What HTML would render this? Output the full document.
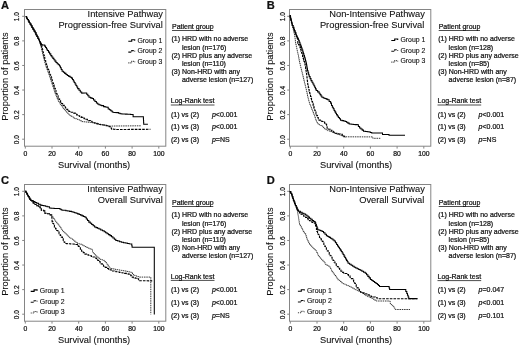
<!DOCTYPE html>
<html><head><meta charset="utf-8"><style>
html,body{margin:0;padding:0;background:#fff;}
svg{display:block;filter:blur(0.3px);}
text{font-family:"Liberation Sans", sans-serif;fill:#111;stroke:#111;stroke-width:0.22px;}
text.big{stroke-width:0.1px;}
text.leg{stroke-width:0.12px;}
</style></head><body>
<svg width="520" height="346" viewBox="0 0 520 346">
<rect width="520" height="346" fill="#fff"/>
<g><rect x="24.5" y="9.5" width="141.3" height="136.7" fill="none" stroke="#858585" stroke-width="1"/>
<line x1="22.2" y1="139.20" x2="24.5" y2="139.20" stroke="#858585" stroke-width="1"/>
<text transform="translate(19.2,139.60) rotate(-90)" text-anchor="middle" font-size="7.2" textLength="9.2" lengthAdjust="spacingAndGlyphs">0.0</text>
<line x1="22.2" y1="114.62" x2="24.5" y2="114.62" stroke="#858585" stroke-width="1"/>
<text transform="translate(19.2,115.02) rotate(-90)" text-anchor="middle" font-size="7.2" textLength="9.2" lengthAdjust="spacingAndGlyphs">0.2</text>
<line x1="22.2" y1="90.04" x2="24.5" y2="90.04" stroke="#858585" stroke-width="1"/>
<text transform="translate(19.2,90.44) rotate(-90)" text-anchor="middle" font-size="7.2" textLength="9.2" lengthAdjust="spacingAndGlyphs">0.4</text>
<line x1="22.2" y1="65.46" x2="24.5" y2="65.46" stroke="#858585" stroke-width="1"/>
<text transform="translate(19.2,65.86) rotate(-90)" text-anchor="middle" font-size="7.2" textLength="9.2" lengthAdjust="spacingAndGlyphs">0.6</text>
<line x1="22.2" y1="40.88" x2="24.5" y2="40.88" stroke="#858585" stroke-width="1"/>
<text transform="translate(19.2,41.28) rotate(-90)" text-anchor="middle" font-size="7.2" textLength="9.2" lengthAdjust="spacingAndGlyphs">0.8</text>
<line x1="22.2" y1="16.30" x2="24.5" y2="16.30" stroke="#858585" stroke-width="1"/>
<text transform="translate(19.2,16.70) rotate(-90)" text-anchor="middle" font-size="7.2" textLength="9.2" lengthAdjust="spacingAndGlyphs">1.0</text>
<line x1="25.30" y1="146.2" x2="25.30" y2="148.6" stroke="#858585" stroke-width="1"/>
<text x="25.30" y="156.0" text-anchor="middle" font-size="6.8">0</text>
<line x1="52.00" y1="146.2" x2="52.00" y2="148.6" stroke="#858585" stroke-width="1"/>
<text x="52.00" y="156.0" text-anchor="middle" font-size="6.8">20</text>
<line x1="78.70" y1="146.2" x2="78.70" y2="148.6" stroke="#858585" stroke-width="1"/>
<text x="78.70" y="156.0" text-anchor="middle" font-size="6.8">40</text>
<line x1="105.40" y1="146.2" x2="105.40" y2="148.6" stroke="#858585" stroke-width="1"/>
<text x="105.40" y="156.0" text-anchor="middle" font-size="6.8">60</text>
<line x1="132.10" y1="146.2" x2="132.10" y2="148.6" stroke="#858585" stroke-width="1"/>
<text x="132.10" y="156.0" text-anchor="middle" font-size="6.8">80</text>
<line x1="158.80" y1="146.2" x2="158.80" y2="148.6" stroke="#858585" stroke-width="1"/>
<text x="158.80" y="156.0" text-anchor="middle" font-size="6.8">100</text>
<text x="58" y="167.5" font-size="9.6" class="big" textLength="72.2" lengthAdjust="spacingAndGlyphs">Survival (months)</text>
<text transform="translate(7.6,76.5) rotate(-90)" text-anchor="middle" font-size="9.5" class="big" textLength="88.4" lengthAdjust="spacingAndGlyphs">Proportion of patients</text>
<text x="163" y="17.1" text-anchor="end" font-size="9.3" class="big">Intensive Pathway</text>
<text x="162.8" y="28.3" text-anchor="end" font-size="9.3" class="big">Progression-free Survival</text>
<text x="1" y="9.3" font-size="11.1" font-weight="bold">A</text>
<g transform="translate(0,-0.4)"><text x="172" y="29.2" font-size="7">Patient group</text>
<line x1="172" y1="30.900000000000002" x2="213.3" y2="30.900000000000002" stroke="#000" stroke-width="0.7"/>
<text x="171.5" y="41.8" font-size="7">(1) HRD with no adverse</text>
<text x="181.9" y="50.1" font-size="7">lesion (n=176)</text>
<text x="171.5" y="58.3" font-size="7">(2) HRD plus any adverse</text>
<text x="181.9" y="66.4" font-size="7">lesion (n=110)</text>
<text x="171.5" y="74.7" font-size="7">(3) Non-HRD with any</text>
<text x="181.9" y="82.7" font-size="7">adverse lesion (n=127)</text>
<text x="170.8" y="103.8" font-size="7">Log-Rank test</text>
<line x1="170.8" y1="105.4" x2="214.5" y2="105.4" stroke="#000" stroke-width="0.7"/>
<text x="171" y="117.0" font-size="7">(1) vs (2)</text>
<text x="211.9" y="117.0" font-size="7"><tspan font-style="italic">p</tspan>&lt;0.001</text>
<text x="171" y="129.8" font-size="7">(1) vs (3)</text>
<text x="211.9" y="129.8" font-size="7"><tspan font-style="italic">p</tspan>&lt;0.001</text>
<text x="171" y="142.7" font-size="7">(2) vs (3)</text>
<text x="211.9" y="142.7" font-size="7"><tspan font-style="italic">p</tspan>=NS</text></g>
<path d="M128.3,41.3 h3.4 v-1.5 h3.0 v0.9" fill="none" stroke="#000" stroke-width="1.1" stroke-dasharray="none"/>
<text x="137.4" y="42.60" font-size="6.9" class="leg">Group 1</text>
<path d="M128.3,52.1 h3.4 v-1.5 h3.0 v0.9" fill="none" stroke="#111" stroke-width="1.1" stroke-dasharray="3,1"/>
<text x="137.4" y="53.40" font-size="6.9" class="leg">Group 2</text>
<path d="M128.3,62.9 h3.4 v-1.5 h3.0 v0.9" fill="none" stroke="#444" stroke-width="1.1" stroke-dasharray="1.1,0.9"/>
<text x="137.4" y="64.20" font-size="6.9" class="leg">Group 3</text></g>
<g transform="translate(265,0)"><rect x="24.5" y="9.5" width="141.3" height="136.7" fill="none" stroke="#858585" stroke-width="1"/>
<line x1="22.2" y1="139.20" x2="24.5" y2="139.20" stroke="#858585" stroke-width="1"/>
<text transform="translate(20.2,139.60) rotate(-90)" text-anchor="middle" font-size="7.2" textLength="9.2" lengthAdjust="spacingAndGlyphs">0.0</text>
<line x1="22.2" y1="114.62" x2="24.5" y2="114.62" stroke="#858585" stroke-width="1"/>
<text transform="translate(20.2,115.02) rotate(-90)" text-anchor="middle" font-size="7.2" textLength="9.2" lengthAdjust="spacingAndGlyphs">0.2</text>
<line x1="22.2" y1="90.04" x2="24.5" y2="90.04" stroke="#858585" stroke-width="1"/>
<text transform="translate(20.2,90.44) rotate(-90)" text-anchor="middle" font-size="7.2" textLength="9.2" lengthAdjust="spacingAndGlyphs">0.4</text>
<line x1="22.2" y1="65.46" x2="24.5" y2="65.46" stroke="#858585" stroke-width="1"/>
<text transform="translate(20.2,65.86) rotate(-90)" text-anchor="middle" font-size="7.2" textLength="9.2" lengthAdjust="spacingAndGlyphs">0.6</text>
<line x1="22.2" y1="40.88" x2="24.5" y2="40.88" stroke="#858585" stroke-width="1"/>
<text transform="translate(20.2,41.28) rotate(-90)" text-anchor="middle" font-size="7.2" textLength="9.2" lengthAdjust="spacingAndGlyphs">0.8</text>
<line x1="22.2" y1="16.30" x2="24.5" y2="16.30" stroke="#858585" stroke-width="1"/>
<text transform="translate(20.2,16.70) rotate(-90)" text-anchor="middle" font-size="7.2" textLength="9.2" lengthAdjust="spacingAndGlyphs">1.0</text>
<line x1="25.30" y1="146.2" x2="25.30" y2="148.6" stroke="#858585" stroke-width="1"/>
<text x="25.30" y="156.0" text-anchor="middle" font-size="6.8">0</text>
<line x1="52.00" y1="146.2" x2="52.00" y2="148.6" stroke="#858585" stroke-width="1"/>
<text x="52.00" y="156.0" text-anchor="middle" font-size="6.8">20</text>
<line x1="78.70" y1="146.2" x2="78.70" y2="148.6" stroke="#858585" stroke-width="1"/>
<text x="78.70" y="156.0" text-anchor="middle" font-size="6.8">40</text>
<line x1="105.40" y1="146.2" x2="105.40" y2="148.6" stroke="#858585" stroke-width="1"/>
<text x="105.40" y="156.0" text-anchor="middle" font-size="6.8">60</text>
<line x1="132.10" y1="146.2" x2="132.10" y2="148.6" stroke="#858585" stroke-width="1"/>
<text x="132.10" y="156.0" text-anchor="middle" font-size="6.8">80</text>
<line x1="158.80" y1="146.2" x2="158.80" y2="148.6" stroke="#858585" stroke-width="1"/>
<text x="158.80" y="156.0" text-anchor="middle" font-size="6.8">100</text>
<text x="55" y="167.5" font-size="9.6" class="big" textLength="72.2" lengthAdjust="spacingAndGlyphs">Survival (months)</text>
<text transform="translate(7.6,76.5) rotate(-90)" text-anchor="middle" font-size="9.5" class="big" textLength="88.4" lengthAdjust="spacingAndGlyphs">Proportion of patients</text>
<text x="159.9" y="17.1" text-anchor="end" font-size="9.3" class="big">Non-Intensive Pathway</text>
<text x="159.3" y="28.3" text-anchor="end" font-size="9.3" class="big">Progression-free Survival</text>
<text x="1.8" y="9.3" font-size="11.1" font-weight="bold">B</text>
<g transform="translate(1.7,-0.4)"><text x="172" y="29.2" font-size="7">Patient group</text>
<line x1="172" y1="30.900000000000002" x2="213.3" y2="30.900000000000002" stroke="#000" stroke-width="0.7"/>
<text x="171.5" y="41.8" font-size="7">(1) HRD with no adverse</text>
<text x="181.9" y="50.1" font-size="7">lesion (n=128)</text>
<text x="171.5" y="58.3" font-size="7">(2) HRD plus any adverse</text>
<text x="181.9" y="66.4" font-size="7">lesion (n=85)</text>
<text x="171.5" y="74.7" font-size="7">(3) Non-HRD with any</text>
<text x="181.9" y="82.7" font-size="7">adverse lesion (n=87)</text>
<text x="170.8" y="103.8" font-size="7">Log-Rank test</text>
<line x1="170.8" y1="105.4" x2="214.5" y2="105.4" stroke="#000" stroke-width="0.7"/>
<text x="171" y="117.0" font-size="7">(1) vs (2)</text>
<text x="211.9" y="117.0" font-size="7"><tspan font-style="italic">p</tspan>&lt;0.001</text>
<text x="171" y="129.8" font-size="7">(1) vs (3)</text>
<text x="211.9" y="129.8" font-size="7"><tspan font-style="italic">p</tspan>&lt;0.001</text>
<text x="171" y="142.7" font-size="7">(2) vs (3)</text>
<text x="211.9" y="142.7" font-size="7"><tspan font-style="italic">p</tspan>=NS</text></g>
<path d="M126.3,40.5 h3.4 v-1.5 h3.0 v0.9" fill="none" stroke="#000" stroke-width="1.1" stroke-dasharray="none"/>
<text x="135.4" y="41.80" font-size="6.9" class="leg">Group 1</text>
<path d="M126.3,51.3 h3.4 v-1.5 h3.0 v0.9" fill="none" stroke="#111" stroke-width="1.1" stroke-dasharray="3,1"/>
<text x="135.4" y="52.60" font-size="6.9" class="leg">Group 2</text>
<path d="M126.3,62.1 h3.4 v-1.5 h3.0 v0.9" fill="none" stroke="#444" stroke-width="1.1" stroke-dasharray="1.1,0.9"/>
<text x="135.4" y="63.40" font-size="6.9" class="leg">Group 3</text></g>
<g transform="translate(0,175)"><rect x="24.5" y="9.5" width="141.3" height="136.7" fill="none" stroke="#858585" stroke-width="1"/>
<line x1="22.2" y1="139.20" x2="24.5" y2="139.20" stroke="#858585" stroke-width="1"/>
<text transform="translate(19.2,139.60) rotate(-90)" text-anchor="middle" font-size="7.2" textLength="9.2" lengthAdjust="spacingAndGlyphs">0.0</text>
<line x1="22.2" y1="114.62" x2="24.5" y2="114.62" stroke="#858585" stroke-width="1"/>
<text transform="translate(19.2,115.02) rotate(-90)" text-anchor="middle" font-size="7.2" textLength="9.2" lengthAdjust="spacingAndGlyphs">0.2</text>
<line x1="22.2" y1="90.04" x2="24.5" y2="90.04" stroke="#858585" stroke-width="1"/>
<text transform="translate(19.2,90.44) rotate(-90)" text-anchor="middle" font-size="7.2" textLength="9.2" lengthAdjust="spacingAndGlyphs">0.4</text>
<line x1="22.2" y1="65.46" x2="24.5" y2="65.46" stroke="#858585" stroke-width="1"/>
<text transform="translate(19.2,65.86) rotate(-90)" text-anchor="middle" font-size="7.2" textLength="9.2" lengthAdjust="spacingAndGlyphs">0.6</text>
<line x1="22.2" y1="40.88" x2="24.5" y2="40.88" stroke="#858585" stroke-width="1"/>
<text transform="translate(19.2,41.28) rotate(-90)" text-anchor="middle" font-size="7.2" textLength="9.2" lengthAdjust="spacingAndGlyphs">0.8</text>
<line x1="22.2" y1="16.30" x2="24.5" y2="16.30" stroke="#858585" stroke-width="1"/>
<text transform="translate(19.2,16.70) rotate(-90)" text-anchor="middle" font-size="7.2" textLength="9.2" lengthAdjust="spacingAndGlyphs">1.0</text>
<line x1="25.30" y1="146.2" x2="25.30" y2="148.6" stroke="#858585" stroke-width="1"/>
<text x="25.30" y="156.0" text-anchor="middle" font-size="6.8">0</text>
<line x1="52.00" y1="146.2" x2="52.00" y2="148.6" stroke="#858585" stroke-width="1"/>
<text x="52.00" y="156.0" text-anchor="middle" font-size="6.8">20</text>
<line x1="78.70" y1="146.2" x2="78.70" y2="148.6" stroke="#858585" stroke-width="1"/>
<text x="78.70" y="156.0" text-anchor="middle" font-size="6.8">40</text>
<line x1="105.40" y1="146.2" x2="105.40" y2="148.6" stroke="#858585" stroke-width="1"/>
<text x="105.40" y="156.0" text-anchor="middle" font-size="6.8">60</text>
<line x1="132.10" y1="146.2" x2="132.10" y2="148.6" stroke="#858585" stroke-width="1"/>
<text x="132.10" y="156.0" text-anchor="middle" font-size="6.8">80</text>
<line x1="158.80" y1="146.2" x2="158.80" y2="148.6" stroke="#858585" stroke-width="1"/>
<text x="158.80" y="156.0" text-anchor="middle" font-size="6.8">100</text>
<text x="58" y="167.5" font-size="9.6" class="big" textLength="72.2" lengthAdjust="spacingAndGlyphs">Survival (months)</text>
<text transform="translate(7.6,76.5) rotate(-90)" text-anchor="middle" font-size="9.5" class="big" textLength="88.4" lengthAdjust="spacingAndGlyphs">Proportion of patients</text>
<text x="162.8" y="17.1" text-anchor="end" font-size="9.3" class="big">Intensive Pathway</text>
<text x="162.8" y="28.3" text-anchor="end" font-size="9.3" class="big">Overall Survival</text>
<text x="1" y="9.3" font-size="11.1" font-weight="bold">C</text>
<g transform="translate(0,-0.4)"><text x="172" y="30.2" font-size="7">Patient group</text>
<line x1="172" y1="31.900000000000002" x2="213.3" y2="31.900000000000002" stroke="#000" stroke-width="0.7"/>
<text x="171.5" y="42.8" font-size="7">(1) HRD with no adverse</text>
<text x="181.9" y="51.1" font-size="7">lesion (n=176)</text>
<text x="171.5" y="59.3" font-size="7">(2) HRD plus any adverse</text>
<text x="181.9" y="67.4" font-size="7">lesion (n=110)</text>
<text x="171.5" y="75.7" font-size="7">(3) Non-HRD with any</text>
<text x="181.9" y="83.7" font-size="7">adverse lesion (n=127)</text>
<text x="170.8" y="104.2" font-size="7">Log-Rank test</text>
<line x1="170.8" y1="105.80000000000001" x2="214.5" y2="105.80000000000001" stroke="#000" stroke-width="0.7"/>
<text x="171" y="117.4" font-size="7">(1) vs (2)</text>
<text x="211.9" y="117.4" font-size="7"><tspan font-style="italic">p</tspan>&lt;0.001</text>
<text x="171" y="130.2" font-size="7">(1) vs (3)</text>
<text x="211.9" y="130.2" font-size="7"><tspan font-style="italic">p</tspan>&lt;0.001</text>
<text x="171" y="143.1" font-size="7">(2) vs (3)</text>
<text x="211.9" y="143.1" font-size="7"><tspan font-style="italic">p</tspan>=NS</text></g>
<path d="M30.7,116.4 h3.4 v-1.5 h3.0 v0.9" fill="none" stroke="#000" stroke-width="1.1" stroke-dasharray="none"/>
<text x="39.8" y="117.70" font-size="6.9" class="leg">Group 1</text>
<path d="M30.7,127.2 h3.4 v-1.5 h3.0 v0.9" fill="none" stroke="#111" stroke-width="1.1" stroke-dasharray="3,1"/>
<text x="39.8" y="128.50" font-size="6.9" class="leg">Group 2</text>
<path d="M30.7,138.0 h3.4 v-1.5 h3.0 v0.9" fill="none" stroke="#444" stroke-width="1.1" stroke-dasharray="1.1,0.9"/>
<text x="39.8" y="139.30" font-size="6.9" class="leg">Group 3</text></g>
<g transform="translate(265,175)"><rect x="24.5" y="9.5" width="141.3" height="136.7" fill="none" stroke="#858585" stroke-width="1"/>
<line x1="22.2" y1="139.20" x2="24.5" y2="139.20" stroke="#858585" stroke-width="1"/>
<text transform="translate(20.2,139.60) rotate(-90)" text-anchor="middle" font-size="7.2" textLength="9.2" lengthAdjust="spacingAndGlyphs">0.0</text>
<line x1="22.2" y1="114.62" x2="24.5" y2="114.62" stroke="#858585" stroke-width="1"/>
<text transform="translate(20.2,115.02) rotate(-90)" text-anchor="middle" font-size="7.2" textLength="9.2" lengthAdjust="spacingAndGlyphs">0.2</text>
<line x1="22.2" y1="90.04" x2="24.5" y2="90.04" stroke="#858585" stroke-width="1"/>
<text transform="translate(20.2,90.44) rotate(-90)" text-anchor="middle" font-size="7.2" textLength="9.2" lengthAdjust="spacingAndGlyphs">0.4</text>
<line x1="22.2" y1="65.46" x2="24.5" y2="65.46" stroke="#858585" stroke-width="1"/>
<text transform="translate(20.2,65.86) rotate(-90)" text-anchor="middle" font-size="7.2" textLength="9.2" lengthAdjust="spacingAndGlyphs">0.6</text>
<line x1="22.2" y1="40.88" x2="24.5" y2="40.88" stroke="#858585" stroke-width="1"/>
<text transform="translate(20.2,41.28) rotate(-90)" text-anchor="middle" font-size="7.2" textLength="9.2" lengthAdjust="spacingAndGlyphs">0.8</text>
<line x1="22.2" y1="16.30" x2="24.5" y2="16.30" stroke="#858585" stroke-width="1"/>
<text transform="translate(20.2,16.70) rotate(-90)" text-anchor="middle" font-size="7.2" textLength="9.2" lengthAdjust="spacingAndGlyphs">1.0</text>
<line x1="25.30" y1="146.2" x2="25.30" y2="148.6" stroke="#858585" stroke-width="1"/>
<text x="25.30" y="156.0" text-anchor="middle" font-size="6.8">0</text>
<line x1="52.00" y1="146.2" x2="52.00" y2="148.6" stroke="#858585" stroke-width="1"/>
<text x="52.00" y="156.0" text-anchor="middle" font-size="6.8">20</text>
<line x1="78.70" y1="146.2" x2="78.70" y2="148.6" stroke="#858585" stroke-width="1"/>
<text x="78.70" y="156.0" text-anchor="middle" font-size="6.8">40</text>
<line x1="105.40" y1="146.2" x2="105.40" y2="148.6" stroke="#858585" stroke-width="1"/>
<text x="105.40" y="156.0" text-anchor="middle" font-size="6.8">60</text>
<line x1="132.10" y1="146.2" x2="132.10" y2="148.6" stroke="#858585" stroke-width="1"/>
<text x="132.10" y="156.0" text-anchor="middle" font-size="6.8">80</text>
<line x1="158.80" y1="146.2" x2="158.80" y2="148.6" stroke="#858585" stroke-width="1"/>
<text x="158.80" y="156.0" text-anchor="middle" font-size="6.8">100</text>
<text x="55" y="167.5" font-size="9.6" class="big" textLength="72.2" lengthAdjust="spacingAndGlyphs">Survival (months)</text>
<text transform="translate(7.6,76.5) rotate(-90)" text-anchor="middle" font-size="9.5" class="big" textLength="88.4" lengthAdjust="spacingAndGlyphs">Proportion of patients</text>
<text x="159.9" y="17.1" text-anchor="end" font-size="9.3" class="big">Non-Intensive Pathway</text>
<text x="159.3" y="28.3" text-anchor="end" font-size="9.3" class="big">Overall Survival</text>
<text x="1.8" y="9.3" font-size="11.1" font-weight="bold">D</text>
<g transform="translate(1.7,-0.4)"><text x="172" y="30.2" font-size="7">Patient group</text>
<line x1="172" y1="31.900000000000002" x2="213.3" y2="31.900000000000002" stroke="#000" stroke-width="0.7"/>
<text x="171.5" y="42.8" font-size="7">(1) HRD with no adverse</text>
<text x="181.9" y="51.1" font-size="7">lesion (n=128)</text>
<text x="171.5" y="59.3" font-size="7">(2) HRD plus any adverse</text>
<text x="181.9" y="67.4" font-size="7">lesion (n=85)</text>
<text x="171.5" y="75.7" font-size="7">(3) Non-HRD with any</text>
<text x="181.9" y="83.7" font-size="7">adverse lesion (n=87)</text>
<text x="170.8" y="104.39999999999999" font-size="7">Log-Rank test</text>
<line x1="170.8" y1="106.0" x2="214.5" y2="106.0" stroke="#000" stroke-width="0.7"/>
<text x="171" y="117.6" font-size="7">(1) vs (2)</text>
<text x="211.9" y="117.6" font-size="7"><tspan font-style="italic">p</tspan>=0.047</text>
<text x="171" y="130.4" font-size="7">(1) vs (3)</text>
<text x="211.9" y="130.4" font-size="7"><tspan font-style="italic">p</tspan>&lt;0.001</text>
<text x="171" y="143.3" font-size="7">(2) vs (3)</text>
<text x="211.9" y="143.3" font-size="7"><tspan font-style="italic">p</tspan>=0.101</text></g>
<path d="M32.9,116.2 h3.4 v-1.5 h3.0 v0.9" fill="none" stroke="#000" stroke-width="1.1" stroke-dasharray="none"/>
<text x="42.0" y="117.50" font-size="6.9" class="leg">Group 1</text>
<path d="M32.9,127.0 h3.4 v-1.5 h3.0 v0.9" fill="none" stroke="#111" stroke-width="1.1" stroke-dasharray="3,1"/>
<text x="42.0" y="128.30" font-size="6.9" class="leg">Group 2</text>
<path d="M32.9,137.8 h3.4 v-1.5 h3.0 v0.9" fill="none" stroke="#444" stroke-width="1.1" stroke-dasharray="1.1,0.9"/>
<text x="42.0" y="139.10" font-size="6.9" class="leg">Group 3</text></g>
<path d="M25.70,16.60H26.56V18.08H27.42V19.56H28.28V21.04H29.14V22.52H30.00V24.00H31.00V25.75H32.00V27.50H33.00V29.25H34.00V31.00H35.00V32.83H36.00V34.67H37.00V36.50H37.83V38.23H38.67V39.97H39.50V41.70H39.97V43.17H40.43V44.63H40.90V46.10H41.33V48.05H41.75V50.00H42.17V51.95H42.60V53.90H43.03V55.63H43.46V57.36H43.89V59.09H44.31V60.81H44.74V62.54H45.17V64.27H45.60V66.00H46.26V67.74H46.92V69.48H47.58V71.22H48.24V72.96H48.90V74.70H49.47V76.43H50.03V78.17H50.60V79.90H51.17V81.63H51.73V83.37H52.30V85.10H52.90V86.88H53.50V88.66H54.10V90.44H54.70V92.22H55.30V94.00H55.92V95.50H56.54V97.00H57.16V98.50H57.78V100.00H58.40V101.50H59.30V102.88H60.20V104.25H61.10V105.62H62.00V107.00H63.15V108.33H64.30V109.65H65.45V110.97H66.60V112.30H67.73V113.47H68.87V114.63H70.00V115.80H71.75V116.95H73.50V118.10H75.03V118.70H76.57V119.30H78.10V119.90H79.85V120.75H81.60V121.60H83.53V121.80H85.47V122.00H87.40V122.20H88.93V122.37H90.47V122.53H92.00V122.70H93.72V123.08H95.45V123.45H97.18V123.83H98.90V124.20H100.76V124.60H102.62V125.00H104.48V125.40H106.34V125.80H108.20V126.20L115.00,126.00L141.10,125.80" fill="none" stroke="#222" stroke-width="0.9" stroke-dasharray="1.5,0.8"/>
<path d="M25.70,16.60H26.56V18.08H27.42V19.56H28.28V21.04H29.14V22.52H30.00V24.00H31.00V25.75H32.00V27.50H33.00V29.25H34.00V31.00H35.00V32.83H36.00V34.67H37.00V36.50H37.83V38.23H38.67V39.97H39.50V41.70H40.10V43.17H40.70V44.63H41.30V46.10H41.82V48.05H42.35V50.00H42.88V51.95H43.40V53.90H43.86V55.63H44.31V57.36H44.77V59.09H45.23V60.81H45.69V62.54H46.14V64.27H46.60V66.00H47.28V67.74H47.96V69.48H48.64V71.22H49.32V72.96H50.00V74.70H50.58V76.43H51.17V78.17H51.75V79.90H52.33V81.63H52.92V83.37H53.50V85.10H54.12V86.88H54.74V88.66H55.36V90.44H55.98V92.22H56.60V94.00H57.35V95.70H58.10V97.40H58.85V99.10H59.60V100.80H60.60V102.13H61.60V103.47H62.60V104.80H63.10V105.40H64.25V106.70H65.40V108.00H66.55V109.30H67.70V110.60H68.85V111.45H70.00V112.30L72.30,112.30H73.75V113.17H75.20V114.05H76.65V114.92H78.10V115.80H79.63V116.57H81.17V117.33H82.70V118.10H84.27V118.70H85.83V119.30H87.40V119.90H88.85V120.60H90.30V121.30H91.75V122.00H93.20V122.70H95.10V123.30H97.00V123.90H98.90V124.50H100.83V124.77H102.77V125.03H104.70V125.30H106.23V125.80H107.77V126.30H109.30V126.80H110.45V127.95H111.60V129.10H113.30V129.30H115.00V129.50L150.50,129.30" fill="none" stroke="#000" stroke-width="1.1" stroke-dasharray="2.6,1.1"/>
<path d="M25.70,16.60H26.56V18.08H27.42V19.56H28.28V21.04H29.14V22.52H30.00V24.00H31.00V25.75H32.00V27.50H33.00V29.25H34.00V31.00H35.00V32.83H36.00V34.67H37.00V36.50H37.83V38.23H38.67V39.97H39.50V41.70H40.40V43.15H41.30V44.60H42.10V45.20L43.50,44.90H44.70V46.10H45.57V47.53H46.43V48.97H47.30V50.40H48.47V52.13H49.63V53.87H50.80V55.60H51.84V56.98H52.88V58.36H53.92V59.74H54.96V61.12H56.00V62.50H57.17V63.67H58.33V64.83H59.50V66.00H60.37V67.73H61.23V69.47H62.10V71.20H63.40V72.28H64.70V73.35H66.00V74.42H67.30V75.50H68.73V76.37H70.17V77.23H71.60V78.10H72.47V79.57H73.33V81.03H74.20V82.50H75.08V84.03H75.95V85.55H76.83V87.07H77.70V88.60H79.00V90.30H80.30V92.00H81.70V93.10L85.50,92.90H86.67V94.33H87.83V95.77H89.00V97.20H90.50V97.85H92.00V98.50H93.47V100.00H94.93V101.50H96.40V103.00H97.65V103.90H98.90V104.80H100.25V105.20H101.60V105.60H103.60V106.60H105.20V106.95H106.80V107.30H108.20V108.90H109.47V109.83H110.73V110.77H112.00V111.70H112.90V112.30L117.20,112.60H118.65V113.20H120.10V113.80H121.86V113.90H123.61V114.00H125.37V114.10H127.13V114.20H128.89V114.30H130.64V114.40H132.40V114.50H133.10V116.70L143.30,116.70H143.40V118.60H143.50V120.50H143.60V122.40H143.70V124.30L147.90,124.30" fill="none" stroke="#000" stroke-width="1.05"/>
<path d="M289.80,15.60H290.24V17.48H290.68V19.36H291.12V21.24H291.56V23.12H292.00V25.00H292.42V26.67H292.83V28.33H293.25V30.00H293.67V31.67H294.08V33.33H294.50V35.00H294.72V36.64H294.94V38.28H295.16V39.92H295.38V41.56H295.60V43.20H295.98V45.03H296.35V46.85H296.73V48.67H297.10V50.50H297.45V52.18H297.80V53.87H298.15V55.55H298.50V57.23H298.85V58.92H299.20V60.60H299.57V62.28H299.93V63.97H300.30V65.65H300.67V67.33H301.03V69.02H301.40V70.70H301.84V72.44H302.28V74.18H302.72V75.92H303.16V77.66H303.60V79.40H304.03V81.05H304.45V82.70H304.88V84.35H305.30V86.00H305.67V87.67H306.03V89.33H306.40V91.00H306.77V92.67H307.13V94.33H307.50V96.00H307.90V97.60H308.30V99.20H308.70V100.80H309.10V102.40H309.50V104.00H310.12V105.58H310.75V107.15H311.38V108.72H312.00V110.30H312.68V112.03H313.35V113.75H314.02V115.47H314.70V117.20H315.35V119.10H316.00V121.00H317.00V122.60H318.00V124.20H319.37V124.87H320.73V125.53H322.10V126.20H323.10V127.45H324.10V128.70H325.90V129.70H327.70V130.70H329.45V131.38H331.20V132.05H332.95V132.72H334.70V133.40H336.27V133.93H337.85V134.45H339.43V134.97H341.00V135.50H342.47V135.93H343.93V136.37H345.40V136.80L372.40,136.90H372.80V138.30L381.10,138.30" fill="none" stroke="#222" stroke-width="0.9" stroke-dasharray="1.5,0.8"/>
<path d="M289.80,15.60H290.22V17.25H290.63V18.90H291.05V20.55H291.47V22.20H291.88V23.85H292.30V25.50H293.02V27.32H293.75V29.15H294.48V30.97H295.20V32.80H295.85V34.60H296.50V36.40H297.15V38.20H297.80V40.00L297.80,43.20H298.53V44.67H299.27V46.13H300.00V47.60H300.52V49.40H301.05V51.20H301.58V53.00H302.10V54.80H302.58V56.48H303.07V58.17H303.55V59.85H304.03V61.53H304.52V63.22H305.00V64.90H305.30V66.64H305.60V68.38H305.90V70.12H306.20V71.86H306.50V73.60H306.70V75.37H306.90V77.14H307.10V78.91H307.30V80.69H307.50V82.46H307.70V84.23H307.90V86.00H308.32V87.74H308.74V89.48H309.16V91.22H309.58V92.96H310.00V94.70H310.50V96.44H311.00V98.18H311.50V99.92H312.00V101.66H312.50V103.40H313.04V105.12H313.58V106.84H314.12V108.56H314.66V110.28H315.20V112.00H315.97V113.83H316.73V115.67H317.50V117.50H318.25V118.80H319.00V120.10H320.37V120.77H321.73V121.43H323.10V122.10H324.60V123.15H326.10V124.20H326.60V126.20H327.10V128.20H328.65V129.20H330.20V130.20H331.87V131.23H333.53V132.27H335.20V133.30H336.90V133.63H338.60V133.97H340.30V134.30H342.30V135.80H343.85V136.80H345.40V137.80" fill="none" stroke="#000" stroke-width="1.1" stroke-dasharray="2.6,1.1"/>
<path d="M289.80,15.60H290.22V17.25H290.63V18.90H291.05V20.55H291.47V22.20H291.88V23.85H292.30V25.50H293.02V27.32H293.75V29.15H294.48V30.97H295.20V32.80H295.75V34.40H296.30V36.00H297.03V37.43H297.77V38.87H298.50V40.30H299.23V42.23H299.97V44.17H300.70V46.10H301.40V48.03H302.10V49.97H302.80V51.90H303.35V53.70H303.90V55.50H304.45V57.30H305.00V59.10H305.50V61.07H306.00V63.03H306.50V65.00H306.83V66.93H307.17V68.87H307.50V70.80H308.07V72.73H308.63V74.67H309.20V76.60H310.10V78.60H311.00V80.60H311.97V82.33H312.93V84.07H313.90V85.80H314.67V87.33H315.43V88.87H316.20V90.40H317.65V91.85H319.10V93.30H320.03V94.63H320.97V95.97H321.90V97.30H323.35V97.90H324.80V98.50H326.25V99.10H327.70V99.70H329.15V101.40H330.60V103.10H331.50V105.50H332.37V107.17H333.23V108.83H334.10V110.50H334.90V111.88H335.70V113.25H336.50V114.62H337.30V116.00H338.37V117.40H339.43V118.80H340.50V120.20H342.07V120.60H343.63V121.00H345.20V121.40H346.53V122.27H347.87V123.13H349.20V124.00H351.20V124.20H353.20V124.40H355.20V124.60H357.20V124.80H358.40V126.40H359.60V128.00H360.90V129.07H362.20V130.13H363.50V131.20H365.37V131.47H367.23V131.73H369.10V132.00H370.40V132.50H371.70V133.00L380.40,133.00H382.50V134.40L387.60,134.40H389.00V135.30L405.00,135.30" fill="none" stroke="#000" stroke-width="1.05"/>
<path d="M25.20,191.20H25.97V192.53H26.73V193.87H27.50V195.20H28.27V196.57H29.03V197.93H29.80V199.30H30.90V200.50H32.05V201.90H33.20V203.30H34.95V204.50H36.70V205.70H38.45V206.85H40.20V208.00H41.30V210.30H43.70V210.90H44.80V213.20H47.10V213.70H49.40V214.90H51.70V216.10H52.10V216.90H53.27V218.47H54.43V220.03H55.60V221.60H56.73V223.13H57.87V224.67H59.00V226.20H60.17V227.73H61.33V229.27H62.50V230.80H63.67V231.97H64.83V233.13H66.00V234.30H67.13V235.43H68.27V236.57H69.40V237.70H70.97V238.87H72.53V240.03H74.10V241.20H75.80V242.35H77.50V243.50H78.95V243.85H80.40V244.20H81.93V245.00H83.47V245.80H85.00V246.60H86.57V247.37H88.13V248.13H89.70V248.90H92.00V250.00H92.55V251.45H93.10V252.90H94.27V254.07H95.43V255.23H96.60V256.40H97.77V257.37H98.93V258.33H100.10V259.30H101.80V259.85H103.50V260.40H104.65V261.55H105.80V262.70H107.00V264.45H108.20V266.20H109.10V267.35H110.00V268.50H112.15V268.90H114.30V269.30H116.03V269.58H117.77V269.87H119.50V270.15H121.23V270.43H122.97V270.72H124.70V271.00H126.42V271.43H128.15V271.85H129.88V272.27H131.60V272.70H132.50V274.00H133.40V275.30H135.13V275.90H136.87V276.50H138.60V277.10L150.80,277.10L150.80,314.40" fill="none" stroke="#222" stroke-width="0.9" stroke-dasharray="1.5,0.8"/>
<path d="M25.20,191.20H25.97V192.53H26.73V193.87H27.50V195.20H28.27V196.57H29.03V197.93H29.80V199.30H30.90V200.50H32.05V201.90H33.20V203.30H34.95V204.50H36.70V205.70H38.45V206.85H40.20V208.00H41.30V210.30H43.70V210.90H44.80V213.20H47.10V213.70H49.40V214.90H51.70V216.10H51.83V217.93H51.97V219.77H52.10V221.60H52.87V223.50H53.63V225.40H54.40V227.30H55.57V228.87H56.73V230.43H57.90V232.00H59.05V233.70H60.20V235.40H61.35V237.15H62.50V238.90H63.27V240.43H64.03V241.97H64.80V243.50H66.66V243.62H68.52V243.74H70.38V243.86H72.24V243.98H74.10V244.10H75.80V244.55H77.50V245.00H78.35V246.35H79.20V247.70H80.40V249.45H81.60V251.20H83.30V252.65H85.00V254.10H86.57V254.67H88.13V255.23H89.70V255.80H91.40V256.40H93.10V257.00H94.85V258.15H96.60V259.30H97.77V260.43H98.93V261.57H100.10V262.70H101.23V263.87H102.37V265.03H103.50V266.20H105.25V267.35H107.00V268.50H108.50V269.10H110.00V269.70H111.25V270.35H112.50V271.00H114.24V271.34H115.98V271.68H117.72V272.02H119.46V272.36H121.20V272.70H122.94V273.06H124.68V273.42H126.42V273.78H128.16V274.14H129.90V274.50H130.75V275.80H131.60V277.10H133.33V277.67H135.07V278.23H136.80V278.80H138.60V280.70L152.20,280.90" fill="none" stroke="#000" stroke-width="1.1" stroke-dasharray="2.6,1.1"/>
<path d="M25.20,191.20H25.97V192.53H26.73V193.87H27.50V195.20H28.27V196.57H29.03V197.93H29.80V199.30H30.90V200.50H33.20V201.60H34.95V202.45H36.70V203.30H38.45V204.20H40.20V205.10H41.95V205.40H43.70V205.70H45.40V206.25H47.10V206.80H49.40V208.00H50.97V208.17H52.53V208.33H54.10V208.50L58.70,208.50H60.00V209.25H61.30V210.00H62.65V210.15H64.00V210.30H65.88V210.65H67.75V211.00H69.62V211.35H71.50V211.70H73.04V212.24H74.58V212.78H76.12V213.32H77.66V213.86H79.20V214.40H80.65V215.12H82.10V215.85H83.55V216.58H85.00V217.30H86.27V218.90H87.53V220.50H88.80V222.10H90.25V223.30H91.70V224.50H93.15V225.70H94.60V226.90H96.07V227.60H97.53V228.30H99.00V229.00H100.73V229.90H102.47V230.80H104.20V231.70H105.65V232.67H107.10V233.65H108.55V234.62H110.00V235.60H111.45V236.80H112.90V238.00H114.35V239.20H115.80V240.40H117.70V241.03H119.60V241.67H121.50V242.30H123.42V242.68H125.35V243.05H127.27V243.43H129.20V243.80L131.50,244.00H131.80V245.65H132.10V247.30L154.30,247.30L154.30,314.40" fill="none" stroke="#000" stroke-width="1.05"/>
<path d="M289.70,191.60H290.70V193.30H291.70V195.00H292.27V196.75H292.85V198.50H293.43V200.25H294.00V202.00H294.73V203.72H295.45V205.45H296.17V207.18H296.90V208.90H297.20V210.63H297.50V212.37H297.80V214.10H298.08V215.83H298.37V217.57H298.65V219.30H298.93V221.03H299.22V222.77H299.50V224.50H300.38V226.22H301.25V227.95H302.12V229.68H303.00V231.40H304.30V233.20H305.60V235.00H306.13V236.60H306.67V238.20H307.20V239.80H307.97V241.37H308.73V242.93H309.50V244.50H310.57V245.57H311.63V246.63H312.70V247.70H313.77V248.77H314.83V249.83H315.90V250.90H316.70V252.50H317.50V254.10H318.30V255.70H319.37V257.00H320.43V258.30H321.50V259.60H322.80V261.20H324.10V262.80H325.40V264.40H326.73V265.20H328.07V266.00H329.40V266.80H330.20V268.40H331.00V270.00H331.80V271.60H332.87V272.90H333.93V274.20H335.00V275.50H336.07V277.10H337.13V278.70H338.20V280.30H339.75V281.50H341.30V282.70H343.15V283.75H345.00V284.80H346.73V285.57H348.47V286.33H350.20V287.10H351.93V287.97H353.67V288.83H355.40V289.70H357.13V290.57H358.87V291.43H360.60V292.30H362.33V293.43H364.07V294.57H365.80V295.70H367.53V296.57H369.27V297.43H371.00V298.30H372.73V299.20H374.47V300.10H376.20V301.00L389.20,301.00H390.10V303.40H391.23V304.57H392.37V305.73H393.50V306.90H394.35V308.20H395.20V309.50L410.00,309.50" fill="none" stroke="#222" stroke-width="0.9" stroke-dasharray="1.5,0.8"/>
<path d="M289.70,191.60H290.70V193.30H291.70V195.00H292.27V196.75H292.85V198.50H293.43V200.25H294.00V202.00H294.73V203.72H295.45V205.45H296.17V207.18H296.90V208.90H297.70V210.45H298.50V212.00H299.45V213.05H300.40V214.10H302.13V215.23H303.87V216.37H305.60V217.50H306.90V218.60H308.20V219.70H309.50V220.80H310.80V221.90H312.23V222.47H313.67V223.03H315.10V223.60H315.55V225.55H316.00V227.50H316.45V229.45H316.90V231.40H317.55V232.93H318.20V234.45H318.85V235.97H319.50V237.50H320.43V238.80H321.37V240.10H322.30V241.40H323.07V242.97H323.85V244.55H324.62V246.12H325.40V247.70H326.36V249.30H327.32V250.90H328.28V252.50H329.24V254.10H330.20V255.70H331.16V257.28H332.12V258.86H333.08V260.44H334.04V262.02H335.00V263.60H336.18V265.20H337.35V266.80H338.52V268.40H339.70V270.00H340.90V271.20H342.10V272.40H343.60V272.95H345.10V273.50H346.80V274.65H348.50V275.80H349.93V277.23H351.37V278.67H352.80V280.10H353.66V281.66H354.52V283.22H355.38V284.78H356.24V286.34H357.10V287.90H358.27V289.37H359.43V290.83H360.60V292.30H362.33V292.87H364.07V293.43H365.80V294.00H367.53V294.87H369.27V295.73H371.00V296.60H373.15V297.05H375.30V297.50H377.10V298.70L417.80,298.70" fill="none" stroke="#000" stroke-width="1.1" stroke-dasharray="2.6,1.1"/>
<path d="M289.70,191.60H290.70V193.30H291.70V195.00H292.27V196.75H292.85V198.50H293.43V200.25H294.00V202.00H294.73V203.72H295.45V205.45H296.17V207.18H296.90V208.90H297.70V210.05H298.50V211.20H300.40V212.30H302.13V213.17H303.87V214.03H305.60V214.90H306.90V216.00H308.20V217.10H309.50V218.20H310.80V219.30H312.23V220.43H313.67V221.57H315.10V222.70H315.75V224.45H316.40V226.20H317.05V227.95H317.70V229.70H319.17V230.27H320.63V230.83H322.10V231.40H323.53V232.83H324.97V234.27H326.40V235.70H327.75V236.52H329.10V237.35H330.45V238.18H331.80V239.00H333.00V240.00H334.20V241.00H335.40V242.75H336.60V244.50H337.54V245.90H338.48V247.30H339.42V248.70H340.36V250.10H341.30V251.50H342.20V253.03H343.10V254.57H344.00V256.10H344.82V257.52H345.64V258.94H346.46V260.36H347.28V261.78H348.10V263.20H349.62V264.20H351.15V265.20H352.68V266.20H354.20V267.20H355.70V267.95H357.20V268.70H358.70V269.45H360.20V270.20H361.90V271.23H363.60V272.27H365.30V273.30H366.57V274.82H367.85V276.35H369.12V277.88H370.40V279.40H371.80V280.40H373.20V281.40H374.60V282.40H376.00V283.40H377.40V284.40H378.45V285.40H379.50V286.40L388.60,286.40H389.10V287.95H389.60V289.50L404.80,289.50H405.80V291.50H406.80V293.50H407.47V295.20H408.13V296.90H408.80V298.60L416.90,298.60" fill="none" stroke="#000" stroke-width="1.05"/>
</svg></body></html>
